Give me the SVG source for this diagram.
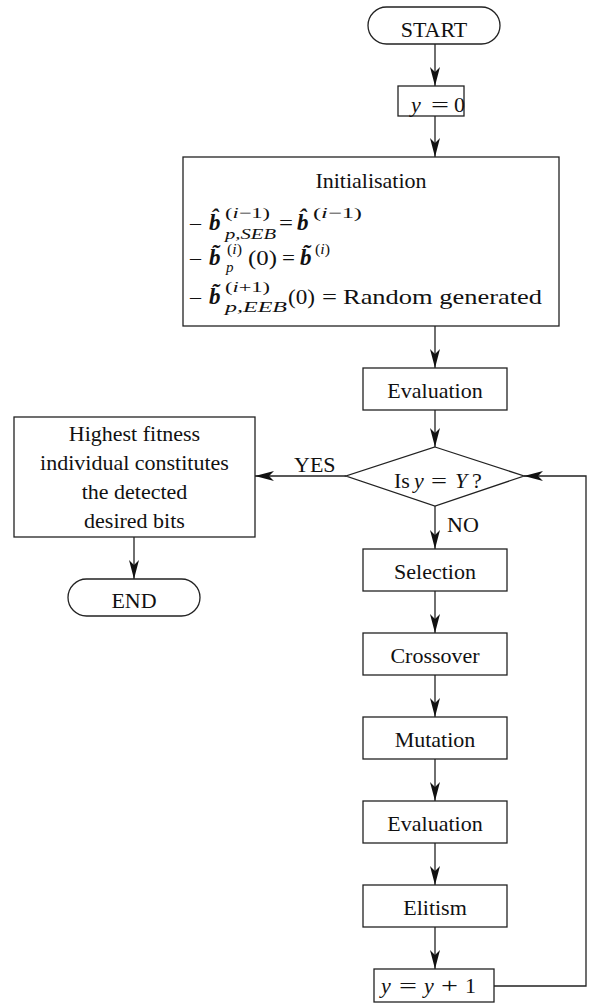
<svg xmlns="http://www.w3.org/2000/svg" width="589" height="1006" viewBox="0 0 589 1006">
<defs>
<style>
.t{font-family:"Liberation Serif","Times New Roman","DejaVu Serif",serif;font-size:22px;fill:#111;}
.c{text-anchor:middle;}
.i{font-style:italic;}
.bb{font-weight:bold;font-style:italic;font-size:23px;}
.s{font-size:15px;}
.box{fill:#fff;stroke:#222;stroke-width:1.3;}
.conn{fill:none;stroke:#222;stroke-width:1.3;}
.arr{marker-end:url(#ah);}
</style>
<marker id="ah" markerUnits="userSpaceOnUse" markerWidth="20" markerHeight="12" refX="19" refY="6" orient="auto">
<path d="M0,1 L19,6 L0,11 L5,6 Z" fill="#111"/>
</marker>
</defs>
<rect width="589" height="1006" fill="#fff"/>

<g id="connectors">
<line class="conn arr" x1="435" y1="44" x2="435" y2="86"/>
<line class="conn arr" x1="435" y1="116" x2="435" y2="157"/>
<line class="conn arr" x1="435" y1="326" x2="435" y2="368"/>
<line class="conn arr" x1="435" y1="410" x2="435" y2="447"/>
<line class="conn arr" x1="435" y1="506" x2="435" y2="549"/>
<line class="conn arr" x1="435" y1="591" x2="435" y2="633"/>
<line class="conn arr" x1="435" y1="675" x2="435" y2="717"/>
<line class="conn arr" x1="435" y1="759" x2="435" y2="801"/>
<line class="conn arr" x1="435" y1="843" x2="435" y2="885"/>
<line class="conn arr" x1="435" y1="927" x2="435" y2="969"/>
<line class="conn arr" x1="346" y1="476" x2="255" y2="476"/>
<line class="conn arr" x1="134" y1="537" x2="134" y2="579"/>
<polyline class="conn arr" points="494,986 586,986 586,476 524,476"/>
<text class="t" x="294" y="472">YES</text>
<text class="t" x="447" y="532">NO</text>
</g>

<g id="start">
<rect class="box" x="368" y="7" width="132" height="37" rx="18.5"/>
<text class="t c" x="434" y="37">START</text>
</g>

<g id="init-y">
<rect class="box" x="398" y="86" width="66" height="30"/>
<text class="t i" x="411" y="112">y</text>
<text class="t" x="431" y="112" textLength="18" lengthAdjust="spacingAndGlyphs">=</text>
<text class="t" x="454" y="112">0</text>
</g>

<g id="initialisation">
<rect class="box" x="183" y="157" width="376" height="169"/>
<text class="t c" x="371" y="188">Initialisation</text>
<!-- line 1 -->
<text class="t" x="190" y="230" font-size="17">–</text>
<text class="t bb" x="209" y="230">b̂</text>
<text class="t s" x="225" y="218" textLength="45" lengthAdjust="spacingAndGlyphs">(<tspan class="i">i</tspan>−1)</text>
<text class="t s i" x="225" y="239" textLength="51" lengthAdjust="spacingAndGlyphs">p,SEB</text>
<text class="t" x="279" y="230" textLength="14" lengthAdjust="spacingAndGlyphs">=</text>
<text class="t bb" x="297" y="230">b̂</text>
<text class="t s" x="313" y="218" textLength="49" lengthAdjust="spacingAndGlyphs">(<tspan class="i">i</tspan>−1)</text>
<!-- line 2 -->
<text class="t" x="190" y="265" font-size="17">–</text>
<text class="t bb" x="209" y="265">b̃</text>
<text class="t s" x="227" y="254" textLength="15" lengthAdjust="spacingAndGlyphs">(<tspan class="i">i</tspan>)</text>
<text class="t s i" x="226" y="272">p</text>
<text class="t" x="248" y="265" textLength="29" lengthAdjust="spacingAndGlyphs">(0)</text>
<text class="t" x="282" y="265" textLength="13" lengthAdjust="spacingAndGlyphs">=</text>
<text class="t bb" x="300" y="265">b̃</text>
<text class="t s" x="315" y="254" textLength="15" lengthAdjust="spacingAndGlyphs">(<tspan class="i">i</tspan>)</text>
<!-- line 3 -->
<text class="t" x="190" y="304" font-size="17">–</text>
<text class="t bb" x="209" y="304">b̃</text>
<text class="t s" x="225" y="292" textLength="45" lengthAdjust="spacingAndGlyphs">(<tspan class="i">i</tspan>+1)</text>
<text class="t s i" x="225" y="312" textLength="62" lengthAdjust="spacingAndGlyphs">p,EEB</text>
<text class="t" x="288" y="304" textLength="27" lengthAdjust="spacingAndGlyphs">(0)</text>
<text class="t" x="322" y="304" textLength="15" lengthAdjust="spacingAndGlyphs">=</text>
<text class="t" x="343" y="304" textLength="199" lengthAdjust="spacingAndGlyphs">Random generated</text>
</g>

<g id="evaluation1">
<rect class="box" x="363" y="368" width="144" height="42"/>
<text class="t c" x="435" y="398">Evaluation</text>
</g>

<g id="decision">
<polygon class="box" points="435,447 524,476 435,506 346,476"/>
<text class="t" x="394" y="488">Is</text>
<text class="t i" x="414" y="488">y</text>
<text class="t" x="431" y="488" textLength="16" lengthAdjust="spacingAndGlyphs">=</text>
<text class="t i" x="455" y="488">Y</text>
<text class="t" x="472" y="488">?</text>
</g>

<g id="result">
<rect class="box" x="14" y="417" width="241" height="120"/>
<text class="t c" x="134.5" y="441">Highest fitness</text>
<text class="t c" x="134.5" y="470">individual constitutes</text>
<text class="t c" x="134.5" y="499">the detected</text>
<text class="t c" x="134.5" y="528">desired bits</text>
</g>

<g id="end">
<rect class="box" x="68" y="579" width="132" height="37" rx="18.5"/>
<text class="t c" x="134" y="608">END</text>
</g>

<g id="selection">
<rect class="box" x="363" y="549" width="144" height="42"/>
<text class="t c" x="435" y="579">Selection</text>
</g>
<g id="crossover">
<rect class="box" x="363" y="633" width="144" height="42"/>
<text class="t c" x="435" y="663">Crossover</text>
</g>
<g id="mutation">
<rect class="box" x="363" y="717" width="144" height="42"/>
<text class="t c" x="435" y="747">Mutation</text>
</g>
<g id="evaluation2">
<rect class="box" x="363" y="801" width="144" height="42"/>
<text class="t c" x="435" y="831">Evaluation</text>
</g>
<g id="elitism">
<rect class="box" x="363" y="885" width="144" height="42"/>
<text class="t c" x="435" y="915">Elitism</text>
</g>
<g id="increment">
<rect class="box" x="374" y="969" width="120" height="33"/>
<text class="t i" x="381" y="993">y</text>
<text class="t" x="399" y="993" textLength="18" lengthAdjust="spacingAndGlyphs">=</text>
<text class="t i" x="424" y="993">y</text>
<text class="t" x="441" y="993" textLength="17" lengthAdjust="spacingAndGlyphs">+</text>
<text class="t" x="465" y="993">1</text>
</g>
</svg>
